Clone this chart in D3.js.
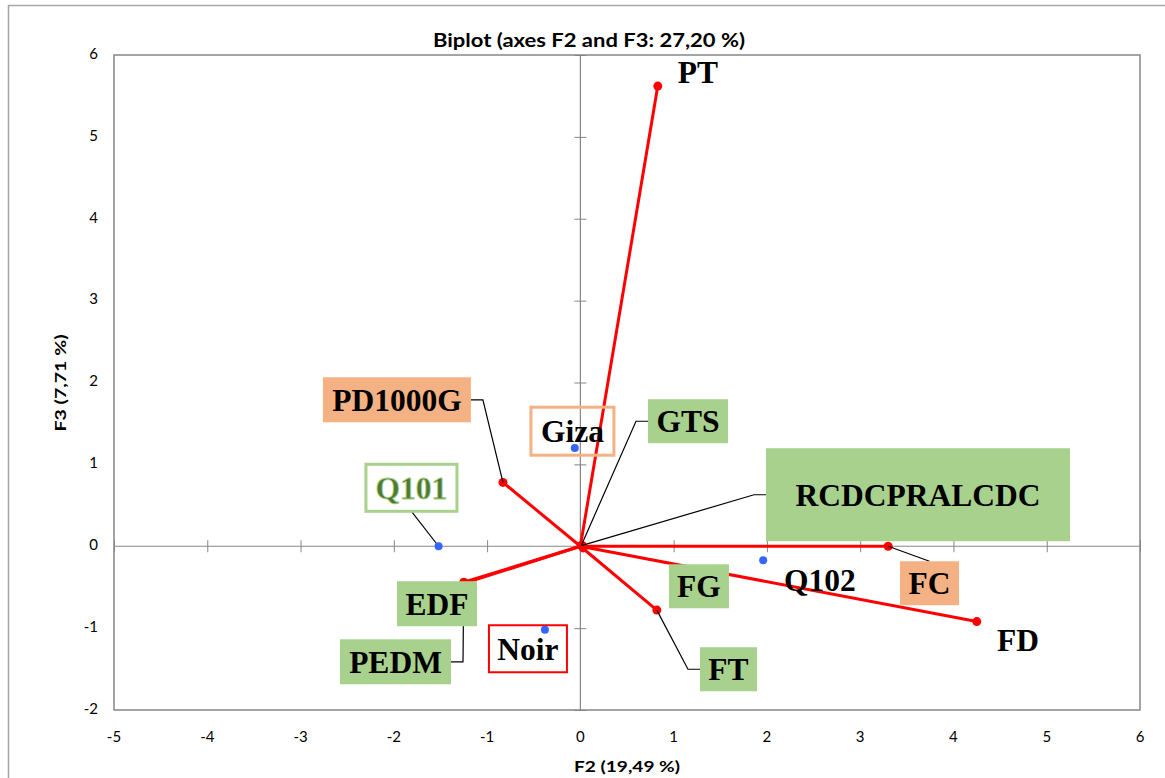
<!DOCTYPE html>
<html><head><meta charset="utf-8">
<script src="https://cdn.jsdelivr.net/npm/d3@7"></script>
<style>body{margin:0;background:#fff}</style>
</head><body>
<svg id="chart" width="1165" height="778"></svg>
<script>
// ---- data ----
const variableNames = ["PT","PD1000G","EDF","PEDM","FT","FC","FD","FG","GTS","RCDCPRALCDC"];
const variableF2    = [0.83, -0.83, -1.24, -1.25, 0.82, 3.30, 4.25, 0.03, 0.01, 0.02];
const variableF3    = [5.62,  0.78, -0.45, -0.44, -0.78, 0.00, -0.92, -0.02, 0.01, 0.01];
const obsNames = ["Giza","Q101","Noir","Q102"];
const obsF2    = [-0.06, -1.52, -0.38, 1.96];
const obsF3    = [1.20, 0.00, -1.02, -0.17];
const xTicks = [-5,-4,-3,-2,-1,0,1,2,3,4,5,6];
const yTicks = [-2,-1,0,1,2,3,4,5,6];
const titleText = "Biplot (axes F2 and F3: 27,20 %)";
const xLabel = "F2 (19,49 %)";
const yLabel = "F3 (7,71 %)";

// ---- label layout (centers in data units, box size in px) ----
const labelLayout = {
  PT:          {cx:1.26,  cy:5.79,  w:0,   h:0,  style:"none"},
  PD1000G:     {cx:-1.967,cy:1.789, w:148, h:45, style:"orange", leader:"right"},
  Giza:        {cx:-0.085,cy:1.405, w:83,  h:48, style:"orangeBorder"},
  GTS:         {cx:1.154, cy:1.527, w:80,  h:44, style:"green", leader:"left"},
  Q101:        {cx:-1.811,cy:0.714, w:91,  h:47, style:"greenBorder", leader:"bottom"},
  RCDCPRALCDC: {cx:3.62,  cy:0.629, w:304, h:93, style:"green", leader:"left"},
  EDF:         {cx:-1.537,cy:-0.702,w:80,  h:45, style:"green"},
  PEDM:        {cx:-1.982,cy:-1.411,w:111, h:45, style:"green", leader:"right"},
  Noir:        {cx:-0.562,cy:-1.252,w:78,  h:47, style:"redBorder"},
  FG:          {cx:1.271, cy:-0.489,w:60,  h:44, style:"green"},
  FT:          {cx:1.588, cy:-1.502,w:57,  h:44, style:"green", leader:"left"},
  Q102:        {cx:2.569, cy:-0.415,w:0,   h:0,  style:"none"},
  FC:          {cx:3.743, cy:-0.452,w:59,  h:44, style:"orange", leader:"top"},
  FD:          {cx:4.692, cy:-1.148,w:0,   h:0,  style:"none"}
};
const boxStyles = {
  none:        {fill:"none", stroke:"none", sw:0, text:"#000"},
  orange:      {fill:"#F4B183", stroke:"none", sw:0, text:"#000"},
  green:       {fill:"#A9D18E", stroke:"none", sw:0, text:"#000"},
  orangeBorder:{fill:"none", stroke:"#F4B183", sw:3, text:"#000"},
  greenBorder: {fill:"none", stroke:"#A9D18E", sw:3, text:"#4E7A30"},
  redBorder:   {fill:"none", stroke:"#FF0000", sw:2, text:"#000"}
};

const svg = d3.select("#chart");
const x = d3.scaleLinear().domain([-5,6]).range([114,1140]);
const y = d3.scaleLinear().domain([-2,6]).range([710,55]);
const gray = "#868686";

// outer chart border
svg.append("rect").attr("x",8.5).attr("y",5.5).attr("width",1200).attr("height",820)
  .attr("fill","none").attr("stroke","#a6a6a6").attr("stroke-width",1.5);

// plot area
svg.append("rect").attr("x",x(-5)).attr("y",y(6)).attr("width",x(6)-x(-5)).attr("height",y(-2)-y(6))
  .attr("fill","none").attr("stroke",gray).attr("stroke-width",1.5);

// axes through origin
const xAxis = d3.axisBottom(x).tickValues(xTicks).tickSize(12).tickFormat("");
const gx = svg.append("g").attr("transform",`translate(0,${y(0)-6})`).call(xAxis);
gx.select(".domain").remove();
gx.selectAll("line").attr("stroke",gray);
svg.append("line").attr("x1",x(-5)).attr("x2",x(6)).attr("y1",y(0)).attr("y2",y(0)).attr("stroke",gray).attr("stroke-width",1.2);
const yAxis = d3.axisLeft(y).tickValues(yTicks).tickSize(12).tickFormat("");
const gy = svg.append("g").attr("transform",`translate(${x(0)+6},0)`).call(yAxis);
gy.select(".domain").remove();
gy.selectAll("line").attr("stroke",gray);
svg.append("line").attr("x1",x(0)).attr("x2",x(0)).attr("y1",y(6)).attr("y2",y(-2)).attr("stroke",gray).attr("stroke-width",1.2);

// tick labels
const tickFont = "Lato, 'Open Sans', sans-serif";
svg.selectAll(".xt").data(xTicks).enter().append("text")
  .attr("x",d=>x(d)).attr("y",738).attr("text-anchor","middle").attr("dominant-baseline","middle")
  .attr("font-family",tickFont).attr("font-size",15).attr("fill","#000").text(d=>d);
svg.selectAll(".yt").data(yTicks).enter().append("text")
  .attr("x",98).attr("y",d=>y(d)).attr("text-anchor","end").attr("dominant-baseline","middle")
  .attr("font-family",tickFont).attr("font-size",15).attr("fill","#000").text(d=>d);

// titles
svg.append("text").attr("x",589).attr("y",42).attr("text-anchor","middle").attr("dominant-baseline","middle")
  .attr("font-family",tickFont).attr("font-weight","bold").attr("font-size",18)
  .attr("textLength",312).attr("lengthAdjust","spacingAndGlyphs").text(titleText);
svg.append("text").attr("x",627).attr("y",768).attr("text-anchor","middle").attr("dominant-baseline","middle")
  .attr("font-family",tickFont).attr("font-weight","bold").attr("font-size",15)
  .attr("textLength",106).attr("lengthAdjust","spacingAndGlyphs").text(xLabel);
svg.append("text").attr("transform",`translate(62,383) rotate(-90)`).attr("text-anchor","middle").attr("dominant-baseline","middle")
  .attr("font-family",tickFont).attr("font-weight","bold").attr("font-size",15)
  .attr("textLength",97).attr("lengthAdjust","spacingAndGlyphs").text(yLabel);

// variables table
const vars = variableNames.map((n,i)=>({name:n, px:x(variableF2[i]), py:y(variableF3[i])}));
const obs = obsNames.map((n,i)=>({name:n, px:x(obsF2[i]), py:y(obsF3[i])}));
const allPts = {};
vars.forEach(d=>allPts[d.name]=d); obs.forEach(d=>allPts[d.name]=d);

// red vectors
svg.selectAll(".vec").data(vars).enter().append("line")
  .attr("x1",x(0)).attr("y1",y(0)).attr("x2",d=>d.px).attr("y2",d=>d.py)
  .attr("stroke","#FF0000").attr("stroke-width",3);
svg.selectAll(".vdot").data(vars).enter().append("circle")
  .attr("cx",d=>d.px).attr("cy",d=>d.py).attr("r",4.5).attr("fill","#FF0000");

// leaders
const stub = 12;
Object.entries(labelLayout).forEach(([name,L])=>{
  if(!L.leader) return;
  const p = allPts[name];
  const cx = x(L.cx), cy = y(L.cy);
  let pts;
  if(L.leader==="right"){ const sx=cx+L.w/2; pts=[[sx,cy],[sx+stub,cy],[p.px,p.py]]; }
  else if(L.leader==="left"){ const sx=cx-L.w/2; pts=[[sx,cy],[sx-stub,cy],[p.px,p.py]]; }
  else if(L.leader==="bottom"){ pts=[[cx,cy+L.h/2],[p.px,p.py]]; }
  else { pts=[[cx,cy-L.h/2],[p.px,p.py]]; }
  svg.append("path").attr("d",d3.line()(pts)).attr("fill","none").attr("stroke","#000").attr("stroke-width",1.2);
});

// boxes
Object.entries(labelLayout).forEach(([name,L])=>{
  const s = boxStyles[L.style];
  if(L.w>0){
    svg.append("rect").attr("x",x(L.cx)-L.w/2).attr("y",y(L.cy)-L.h/2).attr("width",L.w).attr("height",L.h)
      .attr("fill",s.fill).attr("stroke",s.stroke).attr("stroke-width",s.sw);
  }
});

// observation dots
svg.selectAll(".odot").data(obs).enter().append("circle")
  .attr("cx",d=>d.px).attr("cy",d=>d.py).attr("r",4).attr("fill","#3366FF");

// label texts
Object.entries(labelLayout).forEach(([name,L])=>{
  const s = boxStyles[L.style];
  const t = svg.append("text").attr("x",x(L.cx)).attr("y",y(L.cy)+11)
    .attr("text-anchor","middle")
    .attr("font-family","'Liberation Serif', 'Times New Roman', serif").attr("font-weight","bold").attr("font-size",31.5)
    .attr("fill",s.text).text(name);
  if(L.style==="greenBorder") t.attr("stroke","#A9D18E").attr("stroke-width",0.8);
});
</script>
</body></html>
